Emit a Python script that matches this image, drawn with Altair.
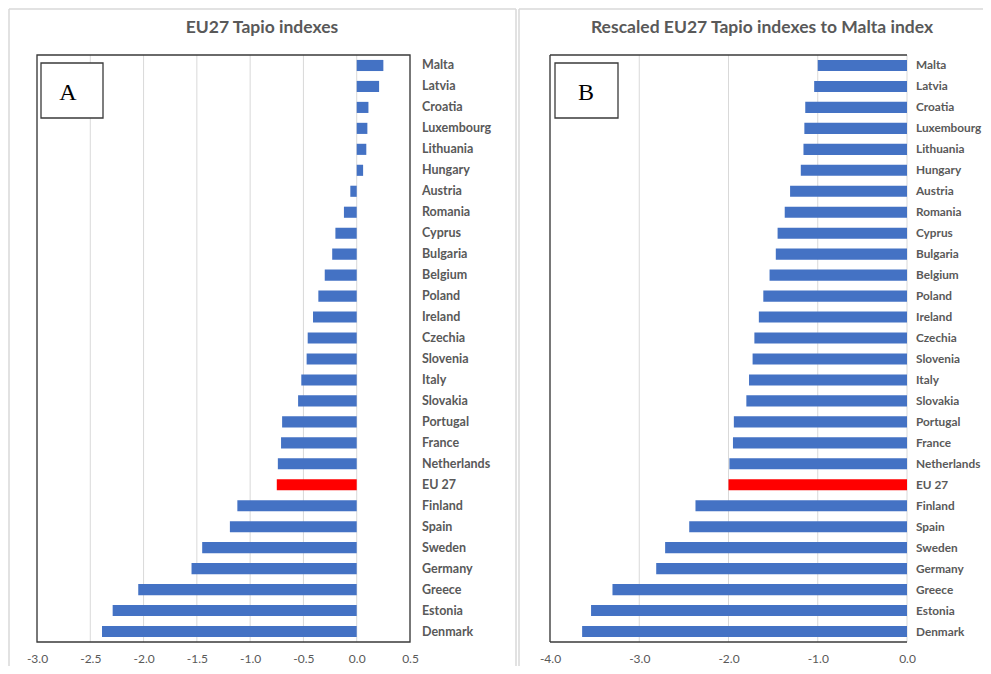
import altair as alt
import pandas as pd

countries = ["Malta", "Latvia", "Croatia", "Luxembourg", "Lithuania", "Hungary",
             "Austria", "Romania", "Cyprus", "Bulgaria", "Belgium", "Poland",
             "Ireland", "Czechia", "Slovenia", "Italy", "Slovakia", "Portugal",
             "France", "Netherlands", "EU 27", "Finland", "Spain", "Sweden",
             "Germany", "Greece", "Estonia", "Denmark"]

tapio = [0.25, 0.21, 0.11, 0.10, 0.09, 0.06, -0.06, -0.12, -0.20, -0.23, -0.30,
         -0.36, -0.41, -0.46, -0.47, -0.52, -0.55, -0.70, -0.71, -0.74, -0.75,
         -1.12, -1.19, -1.45, -1.55, -2.05, -2.29, -2.39]

rescaled = [-1.00, -1.04, -1.14, -1.15, -1.16, -1.19, -1.31, -1.37, -1.45, -1.47,
            -1.54, -1.61, -1.66, -1.71, -1.73, -1.77, -1.80, -1.94, -1.95, -1.99,
            -2.00, -2.37, -2.44, -2.71, -2.81, -3.30, -3.54, -3.64]

ticks_a = [-3.0, -2.5, -2.0, -1.5, -1.0, -0.5, 0.0, 0.5]
ticks_b = [-4.0, -3.0, -2.0, -1.0, 0.0]

title_a = "EU27 Tapio indexes"
title_b = "Rescaled EU27 Tapio indexes to Malta index"

df = pd.DataFrame({"country": countries, "tapio": tapio, "rescaled": rescaled})

W, H = 975, 634
TOP, BOT = 47, 634
GRAY = "#595959"
FRAME = "#3a3a3a"
LIGHT = "#d9d9d9"

y_enc = alt.Y("country:N", axis=None,
              scale=alt.Scale(domain=countries, range=[TOP, BOT],
                              paddingInner=0.47, paddingOuter=0.235))

scale_a = alt.Scale(domain=[-3.0, 0.5], range=[29, 402], nice=False, zero=False)
scale_b = alt.Scale(domain=[-4.0, 0.0], range=[542, 899], nice=False, zero=False)

label_expr = "replace(format(datum.value, '.1f'), '\u2212', '-')"


def make_axis(vals):
    return alt.Axis(orient="bottom", values=vals, labelExpr=label_expr,
                    domain=False, ticks=False, tickSize=0, grid=False,
                    labelFlush=False, labelOverlap=False, labelPadding=11,
                    labelFont="Lato", labelFontSize=12, labelColor=GRAY,
                    title=None)


bar_color = alt.condition(alt.datum.country == "EU 27",
                          alt.value("#FF0000"), alt.value("#4472C4"))


def panel(field, scale, ticks, label_x, label_size, title, title_x, title_size,
          letter, box_x0, box_x1, letter_x, full_box):
    grid = alt.Chart(pd.DataFrame({"t": ticks})).mark_rule(
        color=LIGHT, strokeWidth=1).encode(
        x=alt.X("t:Q", scale=scale, axis=None),
        y=alt.value(TOP), y2=alt.value(BOT))

    bars = alt.Chart(df).mark_bar().encode(
        x=alt.X(f"{field}:Q", scale=scale, axis=make_axis(ticks)),
        x2=alt.datum(0),
        y=y_enc,
        color=bar_color)

    fr = pd.DataFrame({"x0": [ticks[0]], "x1": [ticks[-1]]})
    layers = [grid, bars]
    if full_box:
        layers.append(alt.Chart(fr).mark_rect(
            fill="white", fillOpacity=0, stroke=FRAME, strokeWidth=1.3).encode(
            x=alt.X("x0:Q", scale=scale, axis=None), x2="x1:Q",
            y=alt.value(TOP), y2=alt.value(BOT)))
    else:
        for yy in (TOP, BOT):
            layers.append(alt.Chart(fr).mark_rule(
                color=FRAME, strokeWidth=1.3).encode(
                x=alt.X("x0:Q", scale=scale, axis=None), x2="x1:Q",
                y=alt.value(yy)))
        layers.append(alt.Chart(fr).mark_rule(
            color=FRAME, strokeWidth=1.3).encode(
            x=alt.X("x0:Q", scale=scale, axis=None),
            y=alt.value(TOP), y2=alt.value(BOT)))

    labels = alt.Chart(df).mark_text(
        align="left", baseline="middle", font="Lato", fontSize=label_size,
        fontWeight="bold", color=GRAY).encode(
        x=alt.value(label_x), y=y_enc, text="country:N")

    ttl = alt.Chart(pd.DataFrame({"t": [title]})).mark_text(
        align="center", baseline="middle", font="Lato", fontSize=title_size,
        fontWeight="bold", color=GRAY).encode(
        x=alt.value(title_x), y=alt.value(20), text="t:N")

    box = alt.Chart(pd.DataFrame({"t": [letter]})).mark_rect(
        fill="white", stroke=FRAME, strokeWidth=1.3).encode(
        x=alt.value(box_x0), x2=alt.value(box_x1),
        y=alt.value(55), y2=alt.value(110))

    let = alt.Chart(pd.DataFrame({"t": [letter]})).mark_text(
        align="center", baseline="alphabetic", font="Liberation Serif",
        fontSize=24, color="#000000").encode(
        x=alt.value(letter_x), y=alt.value(92), text="t:N")

    return layers + [labels, ttl, box, let]


layers_a = panel("tapio", scale_a, ticks_a, 414, 12.5, title_a, 254, 17.5,
                 "A", 33, 95, 60, True)
layers_b = panel("rescaled", scale_b, ticks_b, 908, 11.8, title_b, 754, 17.5,
                 "B", 547, 610, 578, False)

outer = pd.DataFrame({"t": [0]})
frame_rules = [
    alt.Chart(outer).mark_rule(color=LIGHT, strokeWidth=1.5).encode(
        x=alt.value(1), y=alt.value(1), y2=alt.value(660)),
    alt.Chart(outer).mark_rule(color=LIGHT, strokeWidth=1.5).encode(
        x=alt.value(1), x2=alt.value(508), y=alt.value(1)),
    alt.Chart(outer).mark_rule(color=LIGHT, strokeWidth=1.5).encode(
        x=alt.value(508), y=alt.value(1), y2=alt.value(660)),
    alt.Chart(outer).mark_rule(color=LIGHT, strokeWidth=1.5).encode(
        x=alt.value(511), y=alt.value(1), y2=alt.value(660)),
    alt.Chart(outer).mark_rule(color=LIGHT, strokeWidth=1.5).encode(
        x=alt.value(511), x2=alt.value(975), y=alt.value(1)),
]

chart = alt.layer(*(frame_rules + layers_a + layers_b)).resolve_scale(
    x="independent").properties(
    width=W, height=H,
    autosize=alt.AutoSizeParams(type="none"),
    padding={"left": 0, "top": 0, "right": 0, "bottom": 24},
).configure_view(strokeWidth=0)

chart.save("out.html", embed_options={"renderer": "svg", "actions": False})
